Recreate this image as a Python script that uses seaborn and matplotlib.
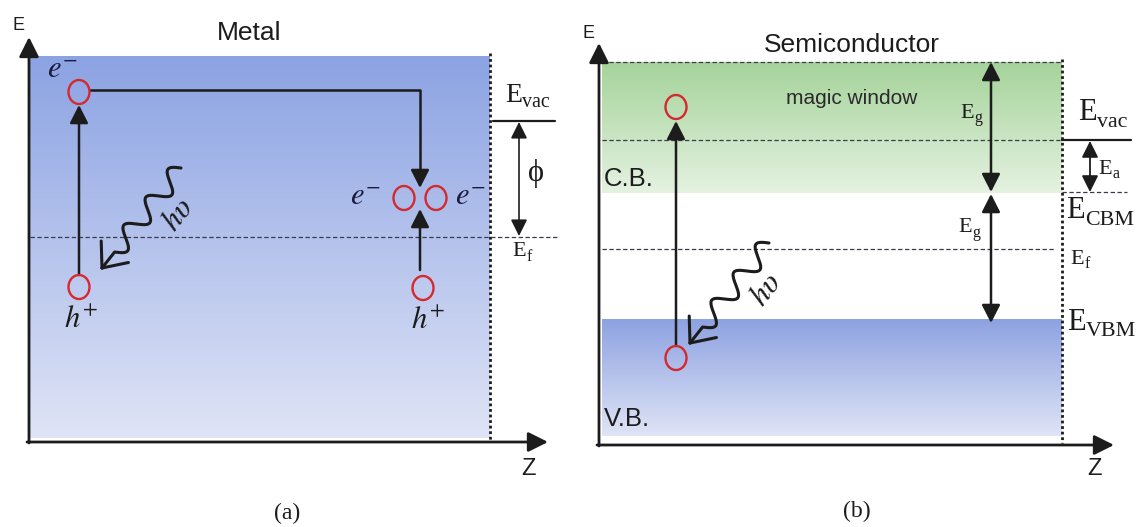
import numpy as np
import pandas as pd
import matplotlib
matplotlib.use("Agg")
import matplotlib.pyplot as plt
import seaborn as sns
from matplotlib.patches import Ellipse
from matplotlib.colors import LinearSegmentedColormap

sns.set_theme(style="white")
plt.rcParams["font.family"] = ["Liberation Sans", "DejaVu Sans"]
plt.rcParams["mathtext.fontset"] = "stix"

# ---------------- diagram data (canvas units, y grows downward) ----------------
panel_titles = ["Metal", "Semiconductor"]
panel_tags = ["(a)", "(b)"]
title_x = [249, 852]
title_y = [33, 45]
tag_x = [287, 857]
tag_y = [513, 511]
e_axis_x = [29, 599]
e_axis_top = [37, 43]
z_axis_y = [442, 445]
z_axis_end = [548, 1114]
surface_x = [490, 1062]
band_left = [30, 602]

# metal energy levels
metal_band = [56, 438]          # top / bottom of filled metal band
metal_vac = 121
metal_fermi = 237

# semiconductor energy levels
sc_window_top = 62
sc_vac = 140
sc_cbm = 193
sc_fermi = 249
sc_vbm = 319
sc_vb_bottom = 436

# level labels: (subscript, left x, centre y of the "E", size)
metal_labels = [("vac", 505, 95, 20), ("f", 512, 252, 16)]
sc_labels = [("vac", 1078, 113, 22), ("a", 1098, 169, 16), ("CBM", 1066, 211, 22),
             ("f", 1070, 259, 16), ("VBM", 1067, 322, 22),
             ("g", 960, 113, 16), ("g", 958, 228, 16)]

# carriers: (x, y) of circles
metal_circles_x = [79, 79, 404, 436, 423]
metal_circles_y = [92, 287, 198, 198, 288]
sc_circles_x = [676, 676]
sc_circles_y = [107, 358]

# photon arrows: start -> tip
photon_start = [(181, 168), (769, 243)]
photon_tip = [(102, 268), (690, 343)]

ink = "#1c1c1c"
red = "#d42a2f"
serif = ["Liberation Serif", "DejaVu Serif"]

fig = plt.figure(figsize=(11.39, 5.27), dpi=100)
ax = fig.add_axes([0, 0, 1, 1])


def gradient(x0, x1, ytop, ybot, c_top, c_bot):
    cmap = LinearSegmentedColormap.from_list("g", [c_top, c_bot])
    grad = np.linspace(0, 1, 256).reshape(-1, 1)
    ax.imshow(grad, cmap=cmap, extent=(x0, x1, ybot, ytop), aspect="auto",
              origin="upper", interpolation="bicubic", zorder=0)


def arrow(x0, y0, x1, y1, lw=1.8, hl=0.55, hw=0.28, color=ink, both=False):
    head = "<|-|>" if both else "-|>"
    style = f"{head},head_length={hl},head_width={hw}"
    ax.annotate("", xy=(x1, y1), xytext=(x0, y0),
                arrowprops=dict(arrowstyle=style, lw=lw, color=color,
                                mutation_scale=20, shrinkA=0, shrinkB=0),
                zorder=4)


def level(x0, x1, y, dashed=True, lw=0.9, color="#3a3a4a"):
    df = pd.DataFrame({"x": [x0, x1], "y": [y, y]})
    ls = (0, (3.5, 2)) if dashed else "-"
    sns.lineplot(data=df, x="x", y="y", ax=ax, color=color, lw=lw,
                 linestyle=ls, estimator=None, sort=False, zorder=3)


def sublabel(sub, x, y, size):
    t = ax.text(x, y, "E", fontsize=size, ha="left", va="center", color=ink,
                family=serif, zorder=6)
    ax.annotate(sub, xy=(1, 0.02), xycoords=t, xytext=(0.3, 0),
                textcoords="offset points", ha="left", va="baseline",
                fontsize=size * 0.72, color=ink, family=serif, zorder=6)


def photon(start, tip):
    start = np.array(start, float)
    tip = np.array(tip, float)
    d = tip - start
    L = np.hypot(*d)
    u = d / L
    n = np.array([-u[1], u[0]])
    wl = 0.84 * L
    t = np.linspace(0, wl, 400)
    pts = start + np.outer(t, u) + np.outer(9.5 * np.sin(2 * np.pi * 3.0 * t / wl), n)
    pts = np.vstack([pts, tip])
    ax.plot(pts[:, 0], pts[:, 1], color=ink, lw=2.2, zorder=4,
            solid_capstyle="round", solid_joinstyle="round")
    back = -u
    for ang in (40, -40):
        a = np.deg2rad(ang)
        r = np.array([back[0] * np.cos(a) - back[1] * np.sin(a),
                      back[0] * np.sin(a) + back[1] * np.cos(a)])
        arm = tip + 27 * r
        ax.plot([tip[0], arm[0]], [tip[1], arm[1]], color=ink, lw=2.2,
                zorder=4, solid_capstyle="round")
    ang_txt = np.degrees(np.arctan2(d[1], -d[0]))
    mid = start + 0.45 * d
    pos = mid + np.array([33, 2])
    ax.text(pos[0], pos[1], r"$h\upsilon$", fontsize=23, rotation=ang_txt,
            ha="center", va="center", color=ink, zorder=5)


def circle(x, y):
    ax.add_patch(Ellipse((x, y), 21, 24, fill=False, edgecolor=red, lw=1.7,
                         zorder=5))


# ---------------- backgrounds ----------------
gradient(band_left[0], surface_x[0], metal_band[0], metal_band[1], "#8ca3e3", "#dfe4f6")
gradient(band_left[1], surface_x[1], sc_window_top, sc_cbm, "#a5d39a", "#e5f2e1")
gradient(band_left[1], surface_x[1], sc_vbm, sc_vb_bottom, "#8da2e1", "#dfe4f6")

# ---------------- axes of both panels ----------------
for i in range(2):
    arrow(e_axis_x[i], z_axis_y[i] + 1, e_axis_x[i], e_axis_top[i], lw=2.0, hl=0.6, hw=0.3)
    arrow(e_axis_x[i] - 2, z_axis_y[i], z_axis_end[i], z_axis_y[i], lw=2.0, hl=0.6, hw=0.3)
    ax.plot([surface_x[i], surface_x[i]], [metal_band[0] - 3 + 6 * i, z_axis_y[i] - 2],
            color=ink, lw=2.0, linestyle=(0, (1, 1)), zorder=3)
    ax.text(title_x[i], title_y[i], panel_titles[i], fontsize=19, ha="center",
            va="center", color=ink)
    ax.text(tag_x[i], tag_y[i], panel_tags[i], fontsize=17, ha="center",
            va="center", color=ink, family=serif)
    ax.text(e_axis_x[i] - 10, e_axis_top[i] - 12 + 3 * i, "E", fontsize=13,
            ha="center", va="center", color=ink)
    ax.text(z_axis_end[i] - 20, 469, "Z", fontsize=17, ha="center",
            va="center", color=ink)

# ---------------- panel (a) : metal ----------------
level(band_left[0], 557, metal_fermi)
level(493, 555, metal_vac, dashed=False, lw=1.6, color=ink)
arrow(519, metal_fermi - 1, 519, metal_vac + 1, lw=1.2, both=True, hl=0.5, hw=0.25)
ax.text(536, 173, "\u03d5", fontsize=22, ha="center", va="center", color=ink,
        family=serif)
for sub, x, y, s in metal_labels:
    sublabel(sub, x, y, s)

for x, y in zip(metal_circles_x, metal_circles_y):
    circle(x, y)

# excitation and transport of the electron
arrow(metal_circles_x[1], metal_circles_y[1] - 12, metal_circles_x[0], metal_circles_y[0] + 13, lw=1.8)
ax.plot([metal_circles_x[0] + 11, 420, 420], [90, 90, 172], color=ink, lw=1.8, zorder=4)
arrow(420, 170, 420, metal_circles_y[2] - 10, lw=1.8)
arrow(420, metal_circles_y[4] - 18, 420, metal_circles_y[2] + 11, lw=1.8)

ax.text(62, 70, r"$e^{-}$", fontsize=22, ha="center", va="center", color="#1a1a3c")
ax.text(81, 320, r"$h^{+}$", fontsize=22, ha="center", va="center", color=ink)
ax.text(365, 197, r"$e^{-}$", fontsize=22, ha="center", va="center", color="#1a1a3c")
ax.text(470, 197, r"$e^{-}$", fontsize=22, ha="center", va="center", color="#1a1a3c")
ax.text(428, 321, r"$h^{+}$", fontsize=22, ha="center", va="center", color=ink)
photon(photon_start[0], photon_tip[0])

# ---------------- panel (b) : semiconductor ----------------
level(band_left[1], surface_x[1], sc_window_top)
level(band_left[1], surface_x[1], sc_vac)
level(surface_x[1], 1131, sc_vac, dashed=False, lw=1.6, color=ink)
level(surface_x[1], 1127, sc_cbm - 1)
level(band_left[1], 1054, sc_fermi)

arrow(991, sc_cbm - 1, 991, sc_window_top, lw=1.8, both=True)
arrow(991, sc_cbm + 1, 991, sc_vbm + 4, lw=1.8, both=True)
arrow(1090, sc_cbm - 1, 1090, sc_vac + 1, lw=1.3, both=True, hl=0.5, hw=0.25)

ax.text(852, 98, "magic window", fontsize=15, ha="center", va="center", color="#2a2a2a")
ax.text(604, 179, "C.B.", fontsize=18.5, ha="left", va="center", color=ink)
ax.text(604, 419, "V.B.", fontsize=18.5, ha="left", va="center", color=ink)
for sub, x, y, s in sc_labels:
    sublabel(sub, x, y, s)

for x, y in zip(sc_circles_x, sc_circles_y):
    circle(x, y)
arrow(sc_circles_x[1], sc_circles_y[1] - 12, sc_circles_x[0], sc_circles_y[0] + 14, lw=1.8)
photon(photon_start[1], photon_tip[1])

ax.set_xlim(0, 1139)
ax.set_ylim(527, 0)
ax.axis("off")
fig.savefig("out.png", dpi=100)
